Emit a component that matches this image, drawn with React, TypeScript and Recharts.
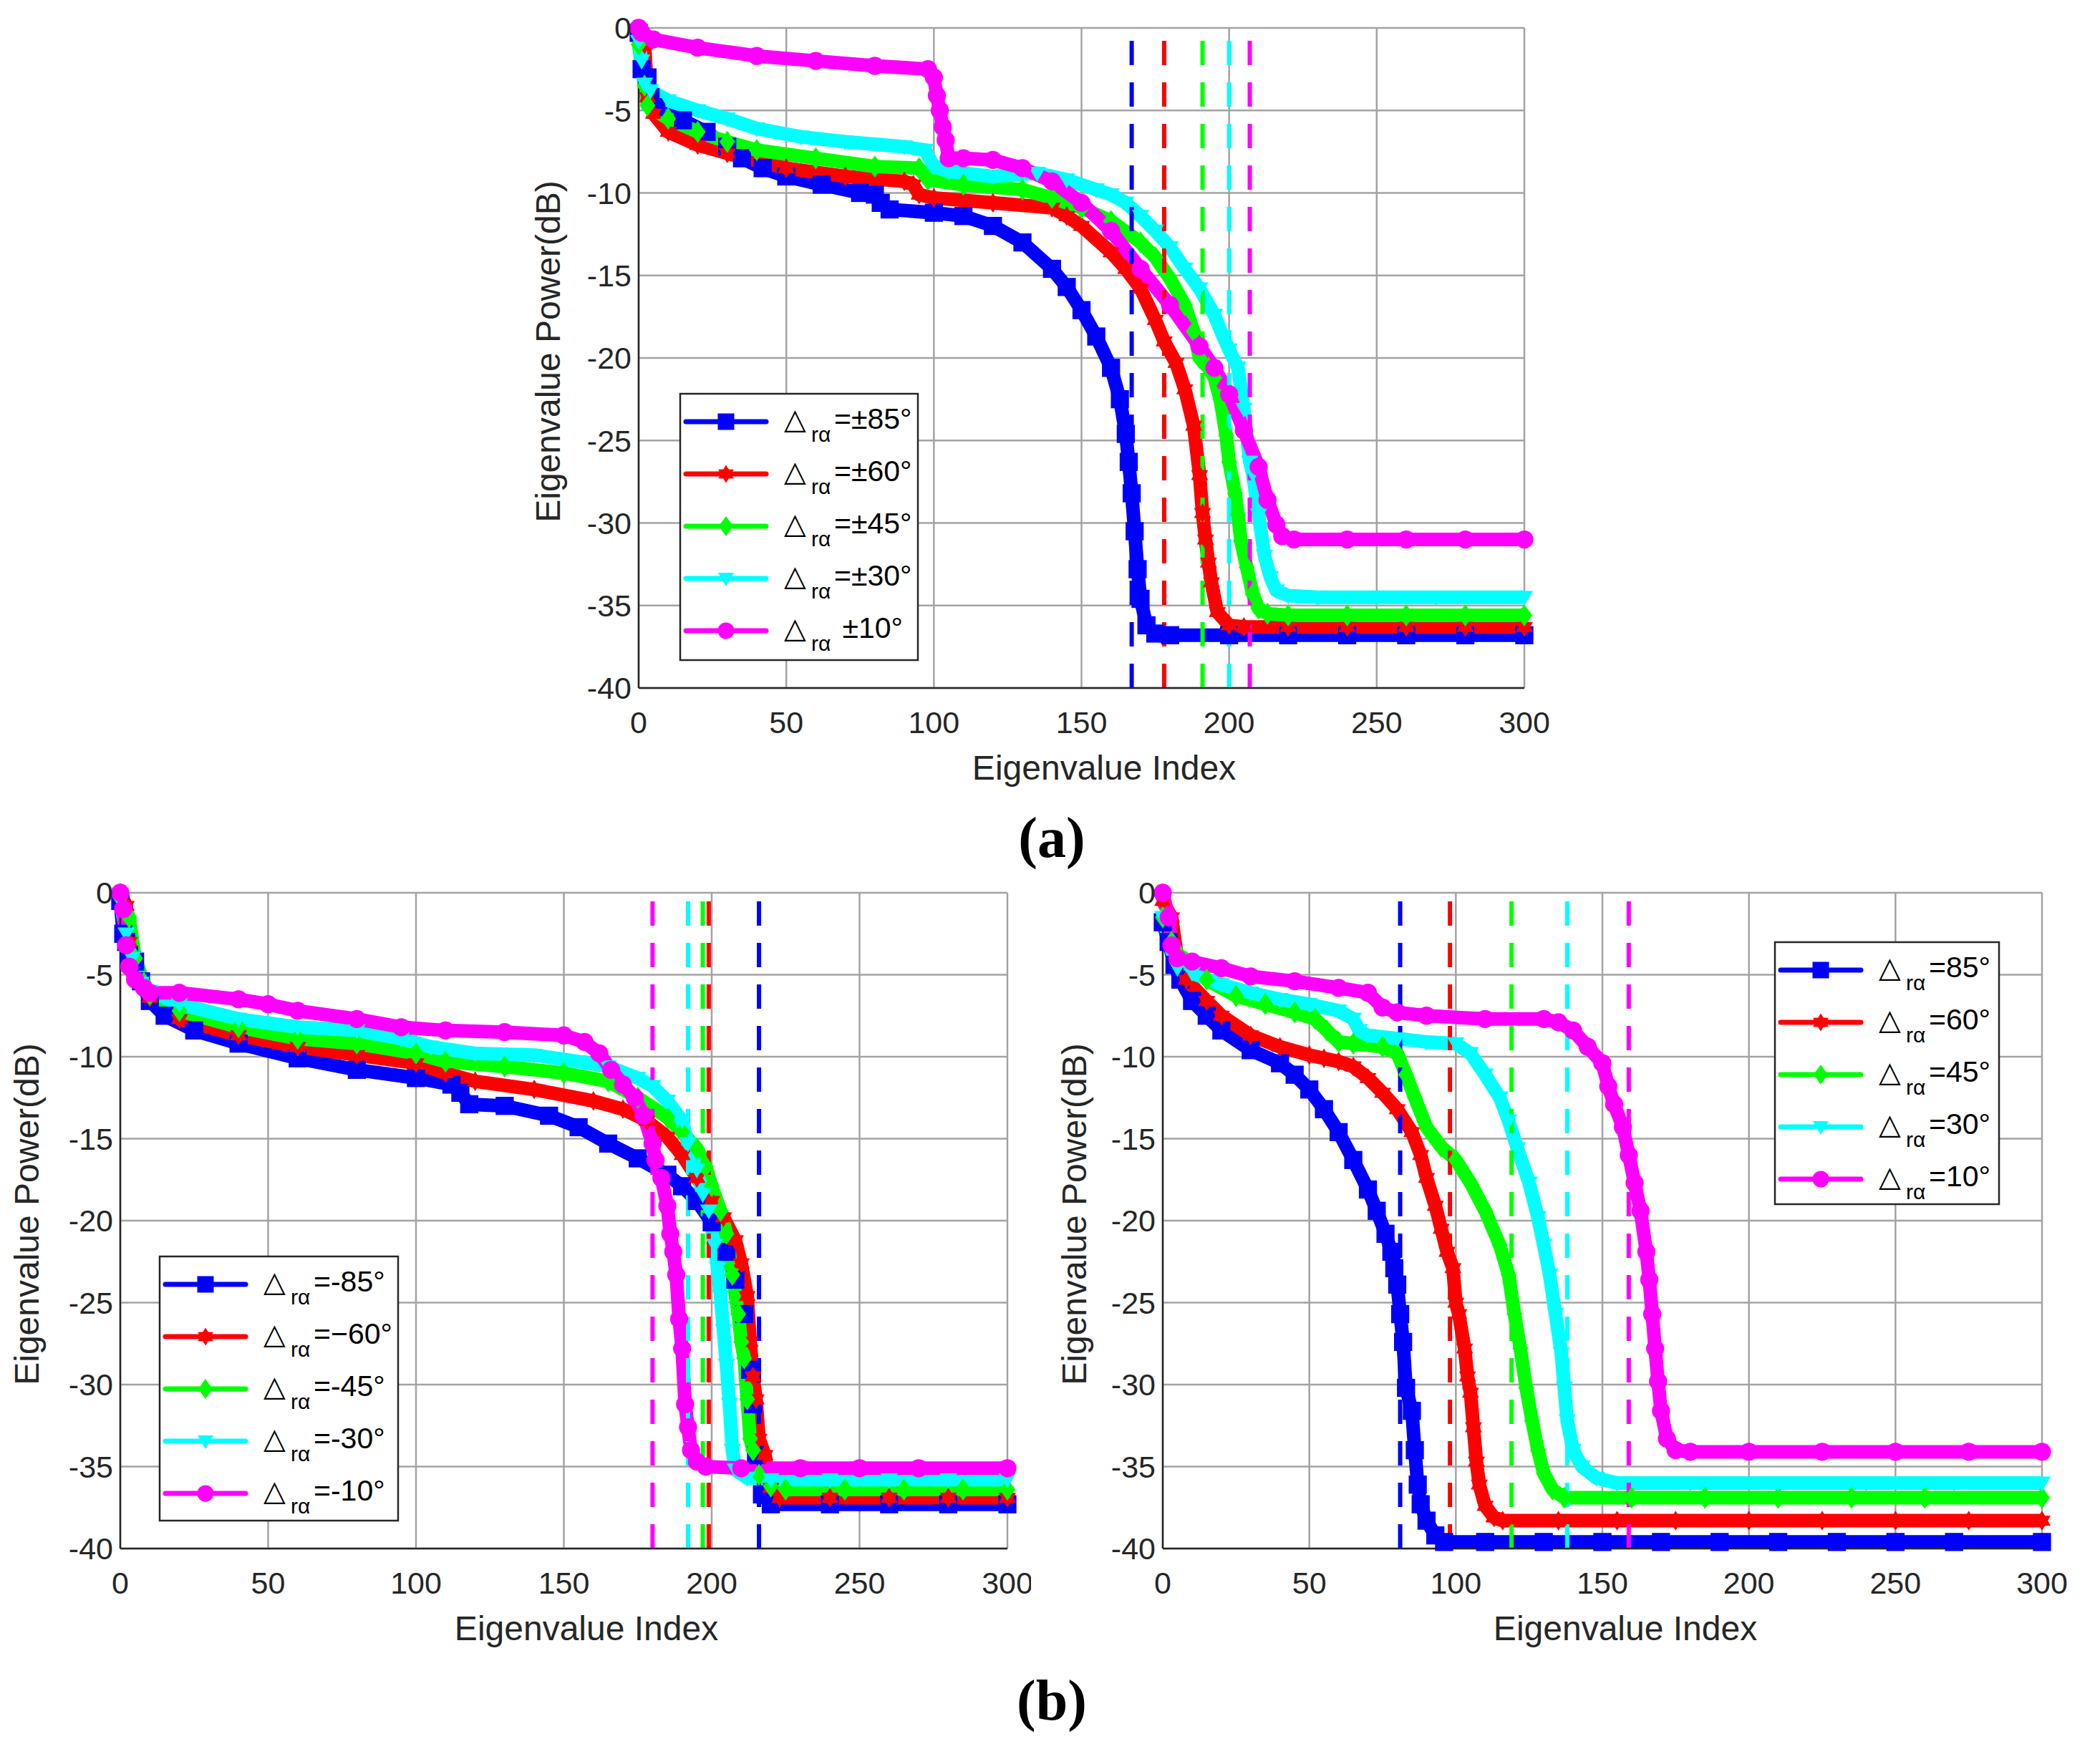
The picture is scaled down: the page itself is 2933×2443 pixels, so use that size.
import { CartesianGrid, Line, LineChart, ReferenceLine, XAxis, YAxis } from "recharts";

type Pt = [number, number];
type MarkerKind = "square" | "hexagram" | "diamond" | "triangle" | "circle";

const xTicks = [0, 50, 100, 150, 200, 250, 300];
const yTicks = [-40, -35, -30, -25, -20, -15, -10, -5, 0];

const seriesColors = ["#0000ff", "#ff0000", "#00ff00", "#00ffff", "#ff00ff"];
const seriesMarkers: MarkerKind[] = ["square", "hexagram", "diamond", "triangle", "circle"];

// (a) symmetric offsets, [eigenvalue index, dB]
const a85: Pt[] = [[0, -0.3], [1, -2.5], [3, -3.0], [4, -4.2], [6, -4.8], [15, -5.6], [23, -6.3], [30, -7.2], [35, -7.9], [42, -8.5], [50, -9.0], [62, -9.5], [75, -10.0], [80, -10.1], [82, -10.6], [85, -11.0], [100, -11.2], [110, -11.4], [120, -12.0], [130, -13.0], [140, -14.6], [145, -15.7], [150, -17.1], [155, -18.7], [160, -20.6], [163, -22.5], [165, -24.6], [166, -26.3], [167, -28.2], [168, -30.5], [169, -32.8], [170, -34.6], [172, -36.2], [175, -36.7], [180, -36.8], [200, -36.8], [220, -36.8], [240, -36.8], [260, -36.8], [280, -36.8], [300, -36.8]];
const a60: Pt[] = [[0, -0.3], [2, -1.0], [3, -4.2], [5, -5.2], [10, -6.3], [20, -7.1], [30, -7.6], [50, -8.5], [70, -9.0], [90, -9.3], [93, -9.5], [95, -10.1], [100, -10.3], [120, -10.6], [140, -10.9], [145, -11.4], [150, -12.0], [160, -13.6], [165, -14.6], [170, -15.8], [175, -17.7], [178, -19.0], [182, -20.3], [185, -21.9], [188, -24.1], [190, -27.1], [191, -29.4], [192, -31.0], [193, -32.4], [194, -33.6], [196, -35.4], [200, -36.2], [205, -36.3], [220, -36.3], [240, -36.3], [260, -36.3], [280, -36.3], [300, -36.3]];
const a45: Pt[] = [[0, -1.0], [2, -3.5], [3, -4.7], [10, -5.5], [20, -6.3], [30, -6.9], [40, -7.4], [60, -7.9], [80, -8.4], [95, -8.5], [98, -9.2], [110, -9.5], [130, -9.8], [140, -10.3], [150, -10.9], [160, -11.7], [170, -13.0], [175, -13.9], [180, -15.2], [185, -16.8], [188, -18.4], [190, -20.0], [193, -20.6], [195, -21.2], [197, -22.5], [199, -24.7], [200, -26.3], [202, -28.2], [203, -29.5], [204, -31.1], [206, -32.7], [208, -34.3], [210, -35.2], [213, -35.5], [220, -35.6], [240, -35.6], [260, -35.6], [280, -35.6], [300, -35.6]];
const a30: Pt[] = [[0, -0.8], [1, -2.0], [2, -3.4], [4, -3.8], [10, -4.4], [20, -5.0], [30, -5.5], [40, -6.1], [55, -6.6], [70, -6.9], [90, -7.2], [97, -7.4], [100, -8.4], [105, -8.7], [120, -9.0], [135, -8.8], [145, -9.2], [155, -9.8], [160, -10.1], [165, -10.6], [170, -11.4], [175, -12.3], [180, -13.3], [185, -14.6], [190, -15.8], [195, -17.4], [198, -18.7], [200, -19.5], [203, -20.6], [205, -23.1], [207, -26.3], [208, -27.0], [210, -29.5], [212, -32.0], [214, -33.3], [216, -34.1], [220, -34.4], [230, -34.5], [250, -34.5], [270, -34.5], [300, -34.5]];
const a10: Pt[] = [[0, 0], [1, -0.3], [5, -0.7], [20, -1.2], [40, -1.7], [60, -2.0], [80, -2.3], [98, -2.5], [100, -3.0], [101, -4.1], [102, -5.0], [103, -6.0], [104, -6.8], [105, -7.9], [110, -7.9], [120, -8.0], [130, -8.5], [140, -9.3], [150, -10.6], [160, -12.3], [170, -14.6], [180, -16.8], [190, -19.3], [195, -20.6], [200, -22.2], [205, -24.4], [210, -26.6], [213, -28.6], [216, -30.1], [218, -30.8], [222, -31.0], [240, -31.0], [260, -31.0], [280, -31.0], [300, -31.0]];
const cutA = [167, 178, 191, 200, 207];
const labelsA = ["=±85°", "=±60°", "=±45°", "=±30°", " ±10°"];

// (b) negative offsets
const bn85: Pt[] = [[0, -0.5], [1, -2.5], [2, -3.0], [3, -3.8], [5, -4.2], [7, -5.4], [10, -6.6], [15, -7.5], [25, -8.4], [40, -9.2], [60, -10.1], [80, -10.8], [100, -11.3], [112, -11.7], [115, -12.2], [118, -12.9], [130, -13.0], [145, -13.6], [155, -14.3], [165, -15.3], [175, -16.2], [185, -17.2], [190, -17.9], [195, -18.8], [200, -20.1], [205, -21.9], [208, -23.6], [211, -25.7], [213, -29.1], [214, -31.2], [215, -34.3], [217, -36.7], [220, -37.3], [240, -37.3], [260, -37.3], [280, -37.3], [300, -37.3]];
const bn60: Pt[] = [[0, 0], [2, -0.8], [3, -3.0], [5, -5.2], [10, -6.4], [20, -7.7], [40, -8.7], [60, -9.4], [80, -9.9], [100, -10.4], [110, -11.0], [120, -11.5], [140, -12.0], [160, -12.7], [170, -13.2], [178, -13.9], [185, -14.9], [190, -16.0], [195, -17.4], [200, -18.8], [204, -19.8], [208, -21.2], [210, -22.6], [212, -24.6], [213, -27.4], [214, -29.5], [215, -30.9], [216, -33.3], [218, -34.3], [220, -36.3], [223, -36.9], [240, -36.9], [260, -36.9], [280, -36.9], [300, -36.9]];
const bn45: Pt[] = [[0, -0.3], [3, -1.5], [5, -4.0], [8, -5.5], [10, -6.2], [20, -7.2], [40, -8.2], [60, -8.9], [80, -9.2], [100, -9.8], [110, -10.3], [130, -10.6], [150, -11.0], [165, -11.5], [175, -12.5], [185, -13.7], [190, -14.6], [195, -15.6], [198, -16.7], [200, -17.9], [203, -19.4], [205, -20.8], [207, -23.3], [209, -25.7], [210, -27.4], [211, -28.4], [212, -30.9], [213, -33.3], [214, -34.0], [216, -35.5], [220, -36.2], [225, -36.4], [245, -36.4], [265, -36.4], [285, -36.4], [300, -36.4]];
const bn30: Pt[] = [[0, -0.5], [2, -2.5], [4, -4.0], [7, -5.5], [10, -6.0], [20, -6.8], [40, -7.7], [60, -8.2], [80, -8.4], [95, -8.9], [105, -9.4], [120, -9.8], [140, -9.9], [155, -10.3], [165, -10.6], [175, -11.3], [180, -11.8], [185, -12.7], [190, -13.9], [192, -15.3], [195, -16.9], [197, -18.4], [199, -19.4], [201, -21.5], [202, -22.9], [203, -24.6], [204, -26.7], [205, -28.8], [206, -31.2], [207, -34.0], [208, -35.2], [212, -35.7], [220, -35.8], [240, -35.8], [260, -35.8], [280, -35.8], [300, -35.8]];
const bn10: Pt[] = [[0, 0], [1, -1.0], [2, -3.2], [3, -4.5], [5, -5.3], [8, -5.8], [10, -6.1], [20, -6.1], [40, -6.5], [50, -6.8], [60, -7.2], [80, -7.7], [95, -8.2], [110, -8.4], [130, -8.5], [150, -8.7], [157, -9.1], [162, -9.8], [166, -10.8], [170, -11.7], [174, -12.5], [177, -13.6], [180, -15.3], [181, -16.3], [183, -17.4], [185, -19.1], [186, -20.8], [187, -21.9], [188, -23.3], [189, -26.0], [190, -27.8], [191, -31.2], [192, -32.6], [193, -34.0], [195, -34.7], [198, -35.0], [210, -35.1], [230, -35.1], [250, -35.1], [270, -35.1], [300, -35.1]];
const cutBn = [216, 199, 197, 192, 180];
const labelsBn = ["=-85°", "=−60°", "=-45°", "=-30°", "=-10°"];

// (b) positive offsets
const bp85: Pt[] = [[0, -1.8], [2, -3.0], [4, -4.4], [6, -5.3], [10, -6.6], [15, -7.5], [20, -8.4], [30, -9.6], [40, -10.4], [45, -11.1], [50, -12.0], [55, -13.2], [60, -14.6], [65, -16.3], [70, -18.1], [73, -19.4], [76, -20.8], [78, -21.9], [79, -22.9], [80, -23.9], [81, -25.7], [82, -27.4], [83, -30.2], [85, -31.6], [86, -34.0], [87, -36.1], [88, -37.3], [90, -38.3], [93, -39.2], [96, -39.6], [110, -39.6], [130, -39.6], [150, -39.6], [170, -39.6], [190, -39.6], [210, -39.6], [230, -39.6], [250, -39.6], [270, -39.6], [300, -39.6]];
const bp60: Pt[] = [[0, -0.5], [3, -1.5], [5, -4.0], [8, -5.3], [15, -6.6], [20, -7.5], [30, -8.7], [40, -9.4], [50, -9.9], [55, -10.1], [60, -10.3], [65, -10.6], [70, -11.3], [75, -12.2], [80, -13.2], [85, -14.6], [88, -16.0], [90, -17.4], [93, -19.1], [95, -20.5], [97, -21.9], [99, -22.9], [100, -25.0], [101, -25.7], [103, -27.8], [104, -29.5], [105, -30.5], [106, -32.6], [107, -34.7], [108, -36.1], [110, -37.4], [113, -38.1], [116, -38.3], [135, -38.3], [155, -38.3], [175, -38.3], [200, -38.3], [225, -38.3], [250, -38.3], [275, -38.3], [300, -38.3]];
const bp45: Pt[] = [[0, -1.5], [3, -3.0], [5, -3.7], [8, -4.2], [15, -5.3], [25, -6.3], [35, -6.8], [45, -7.3], [52, -7.7], [56, -8.4], [60, -9.1], [65, -9.2], [75, -9.4], [80, -9.8], [83, -11.1], [86, -12.5], [90, -14.3], [95, -15.5], [100, -16.3], [105, -17.7], [110, -19.4], [115, -21.5], [118, -23.3], [120, -25.7], [122, -27.8], [124, -30.2], [126, -32.2], [128, -34.0], [130, -35.4], [133, -36.4], [137, -36.9], [160, -36.9], [185, -36.9], [210, -36.9], [235, -36.9], [260, -36.9], [300, -36.9]];
const bp30: Pt[] = [[0, -1.5], [3, -3.5], [5, -4.6], [10, -4.9], [20, -5.6], [30, -6.1], [40, -6.5], [50, -6.8], [60, -7.2], [65, -7.7], [67, -8.4], [70, -8.7], [80, -8.9], [90, -9.1], [100, -9.2], [105, -9.8], [110, -11.1], [115, -12.5], [118, -13.9], [121, -15.6], [125, -17.7], [128, -19.8], [130, -21.5], [132, -23.3], [134, -25.7], [136, -28.1], [137, -30.2], [138, -32.2], [140, -34.0], [143, -35.0], [148, -35.7], [155, -36.0], [180, -36.0], [210, -36.0], [240, -36.0], [270, -36.0], [300, -36.0]];
const bp10: Pt[] = [[0, 0], [2, -1.5], [3, -3.2], [5, -4.0], [10, -4.2], [20, -4.6], [30, -5.1], [45, -5.4], [60, -5.8], [70, -6.1], [75, -7.0], [80, -7.3], [90, -7.5], [110, -7.7], [130, -7.7], [135, -7.9], [140, -8.4], [145, -9.4], [150, -10.4], [152, -11.8], [154, -12.9], [157, -14.3], [159, -16.0], [161, -17.7], [163, -19.4], [165, -21.9], [166, -23.6], [167, -25.7], [168, -27.8], [169, -29.8], [170, -31.6], [172, -33.3], [175, -34.0], [180, -34.1], [200, -34.1], [225, -34.1], [250, -34.1], [275, -34.1], [300, -34.1]];
const cutBp = [81, 98, 119, 138, 159];
const labelsBp = ["=85°", "=60°", "=45°", "=30°", "=10°"];

const INK = "#262626";
const SANS = "'Liberation Sans', Arial, Helvetica, sans-serif";
const tickStyle = { fontSize: 43, fill: INK, fontFamily: SANS };
const axisStyle = { stroke: INK, strokeWidth: 2.5 };

function Marker({ kind, cx, cy, color, s = 1 }: { kind: MarkerKind; cx: number; cy: number; color: string; s?: number }) {
  if (cx == null || cy == null) return null;
  if (kind === "square") return <rect x={cx - 11.5 * s} y={cy - 11.5 * s} width={23 * s} height={23 * s} fill={color} />;
  if (kind === "diamond")
    return <polygon points={`${cx},${cy - 14 * s} ${cx + 10 * s},${cy} ${cx},${cy + 14 * s} ${cx - 10 * s},${cy}`} fill={color} />;
  if (kind === "triangle")
    return <polygon points={`${cx - 11 * s},${cy - 8 * s} ${cx + 11 * s},${cy - 8 * s} ${cx},${cy + 11 * s}`} fill={color} />;
  if (kind === "circle") return <circle cx={cx} cy={cy} r={11.5 * s} fill={color} />;
  const pts: string[] = [];
  for (let k = 0; k < 12; k++) {
    const r = (k % 2 === 0 ? 12.5 : 7.5) * s;
    const a = (-90 + k * 30) * (Math.PI / 180);
    pts.push(`${cx + r * Math.cos(a)},${cy + r * Math.sin(a)}`);
  }
  return <polygon points={pts.join(" ")} fill={color} />;
}

interface PanelProps {
  left: number;
  top: number;
  width: number;
  height: number;
  margin: { top: number; right: number; left: number; bottom: number };
  yWidth: number;
  xHeight: number;
  series: Pt[][];
  cuts: number[];
}

function Panel({ left, top, width, height, margin, yWidth, xHeight, series, cuts }: PanelProps) {
  return (
    <div style={{ position: "absolute", left, top, width, height }}>
      <LineChart width={width} height={height} margin={margin}>
        <CartesianGrid stroke="#a3a3a3" strokeWidth={2.5} />
        <XAxis
          dataKey="x"
          type="number"
          domain={[0, 300]}
          ticks={xTicks}
          interval={0}
          height={xHeight}
          tickSize={0}
          tickMargin={32}
          tickLine={false}
          axisLine={axisStyle}
          tick={tickStyle}
        />
        <XAxis xAxisId="top" orientation="top" type="number" domain={[0, 300]} height={0} tick={false} tickLine={false} axisLine={axisStyle} />
        <YAxis
          type="number"
          domain={[-40, 0]}
          ticks={yTicks}
          interval={0}
          width={yWidth}
          tickSize={0}
          tickMargin={10}
          tickLine={false}
          axisLine={axisStyle}
          tick={tickStyle}
        />
        <YAxis yAxisId="right" orientation="right" type="number" domain={[-40, 0]} width={0} tick={false} tickLine={false} axisLine={axisStyle} />
        {series.map((s, i) => (
          <Line
            key={`s${i}`}
            data={s.map(([x, y]) => ({ x, y }))}
            dataKey="y"
            stroke={seriesColors[i]}
            strokeWidth={19}
            strokeLinejoin="round"
            dot={(p: any) => <Marker key={`m${i}-${p.index}`} kind={seriesMarkers[i]} cx={p.cx} cy={p.cy} color={seriesColors[i]} s={1.1} />}
            activeDot={false}
            isAnimationActive={false}
          />
        ))}
        {cuts.map((c, i) => (
          <ReferenceLine key={`c${i}`} x={c} stroke={seriesColors[i]} strokeWidth={6} strokeDasharray="34 24" />
        ))}
      </LineChart>
    </div>
  );
}

function LegendBox({ x, y, w, h, labels }: { x: number; y: number; w: number; h: number; labels: string[] }) {
  return (
    <g transform={`translate(${x},${y})`}>
      <rect x={0} y={0} width={w} height={h} fill="#fff" stroke={INK} strokeWidth={2.5} />
      {labels.map((lab, i) => {
        const cy = 39 + 73 * i;
        return (
          <g key={lab}>
            <line x1={8} x2={120} y1={cy} y2={cy} stroke={seriesColors[i]} strokeWidth={7} strokeLinecap="round" />
            <Marker kind={seriesMarkers[i]} cx={64} cy={cy} color={seriesColors[i]} />
            <text x={145} y={cy + 10} fontSize={40} fontFamily="'DejaVu Sans', sans-serif" fill="#000">
              △
            </text>
            <text x={183} y={cy + 28} fontSize={30} fontFamily={SANS} fill="#000">
              rα
            </text>
            <text x={215} y={cy + 10} fontSize={41} fontFamily={SANS} fill="#000" style={{ whiteSpace: "pre" }}>
              {lab}
            </text>
          </g>
        );
      })}
    </g>
  );
}

function XTitle({ cx, y }: { cx: number; y: number }) {
  return (
    <text x={cx} y={y} textAnchor="middle" fontSize={48} fontFamily={SANS} fill={INK}>
      Eigenvalue Index
    </text>
  );
}

function YTitle({ cx, cy }: { cx: number; cy: number }) {
  return (
    <text x={cx} y={cy} dy={17} transform={`rotate(-90 ${cx} ${cy})`} textAnchor="middle" fontSize={48} fontFamily={SANS} fill={INK}>
      Eigenvalue Power(dB)
    </text>
  );
}

export default function App() {
  return (
    <div style={{ position: "absolute", left: 0, top: 0, width: 2933, height: 2443, background: "#fff", overflow: "hidden" }}>
      <Panel
        left={700}
        top={0}
        width={1500}
        height={1120}
        margin={{ top: 39, right: 71, left: 0, bottom: 0 }}
        yWidth={192}
        xHeight={159}
        series={[a85, a60, a45, a30, a10]}
        cuts={cutA}
      />
      <Panel
        left={0}
        top={1200}
        width={1440}
        height={1130}
        margin={{ top: 47, right: 33, left: 0, bottom: 0 }}
        yWidth={168}
        xHeight={167}
        series={[bn85, bn60, bn45, bn30, bn10]}
        cuts={cutBn}
      />
      <Panel
        left={1440}
        top={1200}
        width={1493}
        height={1130}
        margin={{ top: 47, right: 81, left: 0, bottom: 0 }}
        yWidth={184}
        xHeight={167}
        series={[bp85, bp60, bp45, bp30, bp10]}
        cuts={cutBp}
      />
      <svg width={2933} height={2443} style={{ position: "absolute", left: 0, top: 0, pointerEvents: "none" }}>
        <LegendBox x={950} y={550} w={332} h={372} labels={labelsA} />
        <LegendBox x={223} y={1755} w={333} h={369} labels={labelsBn} />
        <LegendBox x={2479} y={1316} w={313} h={366} labels={labelsBp} />
        <XTitle cx={1542} y={1089} />
        <XTitle cx={819} y={2291} />
        <XTitle cx={2270} y={2291} />
        <YTitle cx={765} cy={491} />
        <YTitle cx={37} cy={1696} />
        <YTitle cx={1500} cy={1696} />
        <text x={1469} y={1197} textAnchor="middle" fontSize={80} fontWeight="bold" fontFamily="'Liberation Serif', 'Times New Roman', serif" fill="#000">
          (a)
        </text>
        <text x={1469} y={2402} textAnchor="middle" fontSize={80} fontWeight="bold" fontFamily="'Liberation Serif', 'Times New Roman', serif" fill="#000">
          (b)
        </text>
      </svg>
    </div>
  );
}
